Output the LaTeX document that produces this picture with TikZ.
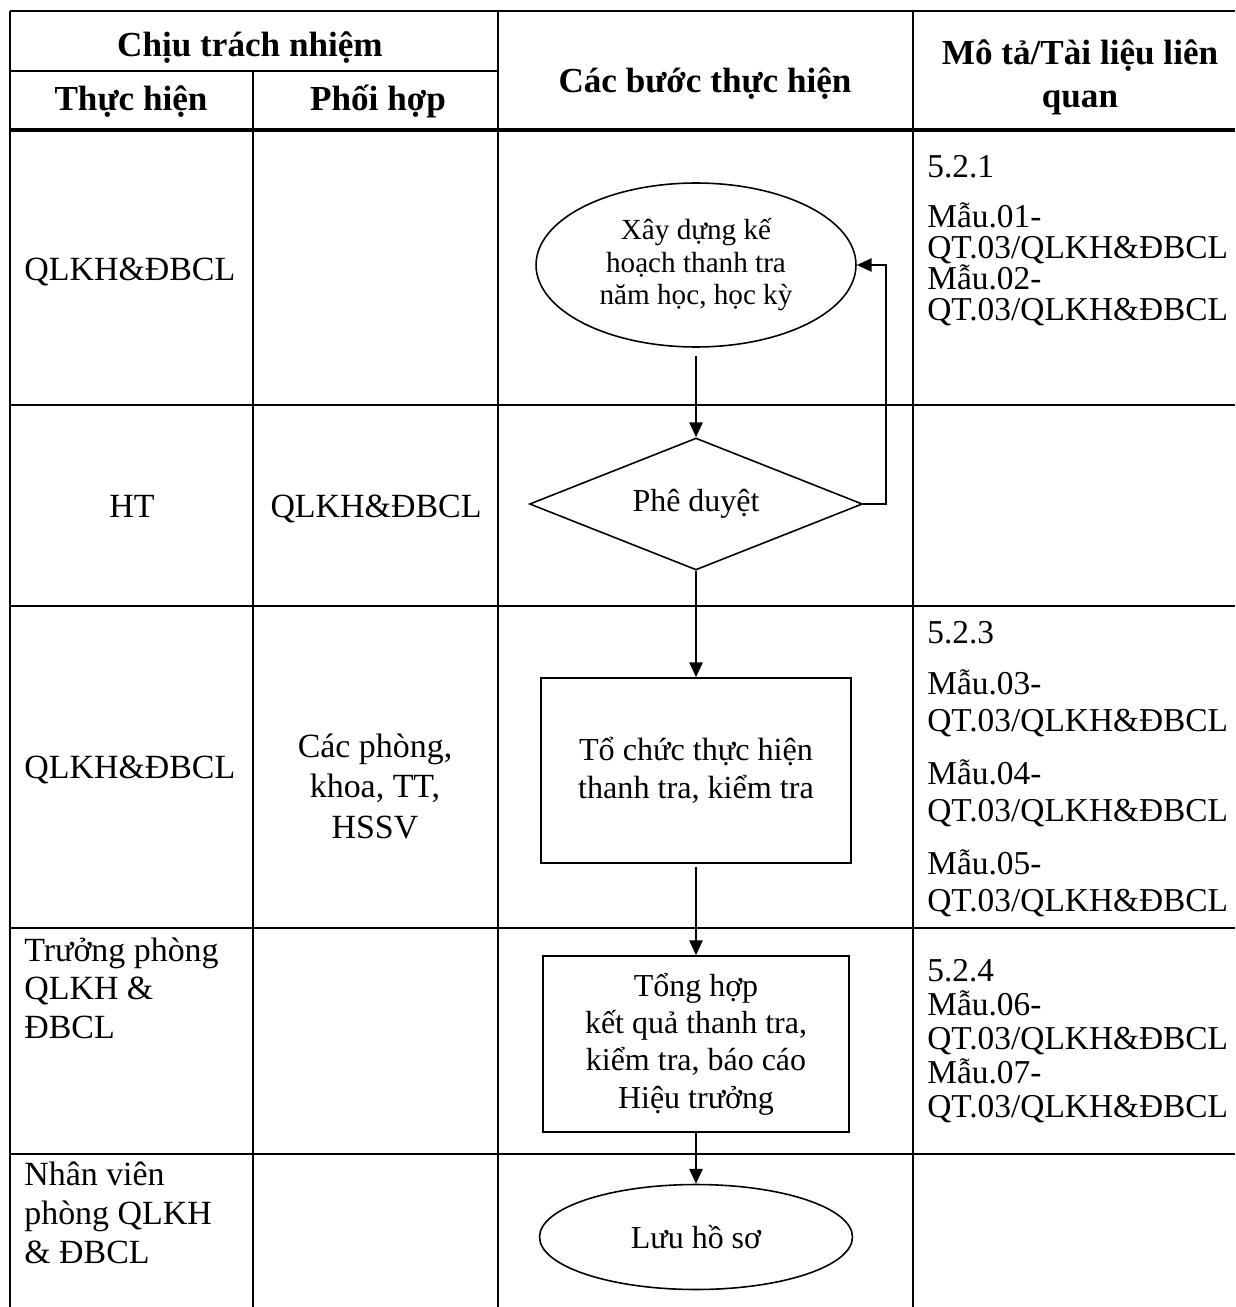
\documentclass[tikz,border=0pt]{standalone}
\usepackage{fontspec}
\setmainfont{Liberation Serif}
\usetikzlibrary{shapes.geometric,arrows.meta}
\newcommand{\tightlines}{\lineskiplimit-100pt\relax}

\begin{document}
\begin{tikzpicture}[x=0.02cm,y=-0.02cm,
    rule/.style={line width=1.2pt},
    headrule/.style={line width=1.8pt},
    headtext/.style={font=\fontsize{20}{24}\selectfont\bfseries,align=center,inner sep=0pt,anchor=base},
    celltext/.style={font=\fontsize{19.3}{21.8}\selectfont\tightlines,align=left,inner sep=0pt,anchor=base west},
    centertext/.style={celltext,align=center,anchor=base},
    flow/.style={line width=1.3pt,-{Triangle[width=7.5pt,length=8.5pt]}},
    startstop/.style={ellipse,draw,line width=0.9pt,inner sep=0pt,align=center},
    decision/.style={diamond,draw,line width=0.9pt,inner sep=0pt,align=center,
      shape aspect=2.52,minimum width=6.66cm,minimum height=2.64cm},
    stepbox/.style={rectangle,draw,line width=0.9pt,inner sep=0pt,align=center},
    steptext/.style={font=\fontsize{18.2}{21.2}\selectfont\tightlines}
  ]
  \useasboundingbox (0,0) rectangle (1235,1307);

  % table rules
  \draw[rule] (10,11) -- (1235,11);
  \draw[rule] (10,71) -- (498,71);
  \draw[headrule] (10,130) -- (1235,130);
  \foreach \y in {405,606,928,1154}
    \draw[rule] (10,\y) -- (1235,\y);
  \draw[rule] (10,11) -- (10,1307);
  \draw[rule] (253,71) -- (253,1307);
  \draw[rule] (498,11) -- (498,1307);
  \draw[rule] (913,11) -- (913,1307);

  % header (base of a multi-line node = last line)
  \node[headtext] (resp) at (250,57) {Chịu trách nhiệm};
  \node[headtext] (doer) at (131,111) {Thực hiện};
  \node[headtext] (partner) at (378,111) {Phối hợp};
  \node[headtext] (steps) at (705,93) {Các bước thực hiện};
  \node[headtext,font=\fontsize{20}{24.5}\selectfont\bfseries] (docs) at (1080,108) {Mô tả/Tài liệu liên\\quan};

  % column: thuc hien / phoi hop
  \node[celltext] (doer1) at (24,280) {QLKH\&ĐBCL};
  \node[centertext] (doer2) at (132,517) {HT};
  \node[centertext] (partner2) at (376,517) {QLKH\&ĐBCL};
  \node[celltext] (doer3) at (24,778) {QLKH\&ĐBCL};
  \node[centertext,font=\fontsize{19.3}{22.8}\selectfont\tightlines] (partner3) at (375,838) {Các phòng,\\khoa, TT,\\HSSV};
  \node[celltext] (doer4) at (24,1038) {Trưởng phòng\\QLKH \&\\ĐBCL};
  \node[celltext,font=\fontsize{19.3}{22.2}\selectfont\tightlines] (doer5) at (24,1263) {Nhân viên\\phòng QLKH\\\& ĐBCL};

  % column: mo ta / tai lieu
  \node[celltext,font=\fontsize{19}{17.6}\selectfont\tightlines] (docs1) at (927,320)
    {5.2.1\\[10.8pt]Mẫu.01-\\QT.03/QLKH\&ĐBCL\\Mẫu.02-\\QT.03/QLKH\&ĐBCL};
  \node[celltext,font=\fontsize{19}{21}\selectfont\tightlines] (docs3) at (927,911)
    {5.2.3\\[8pt]Mẫu.03-\\QT.03/QLKH\&ĐBCL\\[9.1pt]Mẫu.04-\\QT.03/QLKH\&ĐBCL\\[9.1pt]Mẫu.05-\\QT.03/QLKH\&ĐBCL};
  \node[celltext,font=\fontsize{19}{19.3}\selectfont\tightlines] (docs4) at (927,1117)
    {5.2.4\\Mẫu.06-\\QT.03/QLKH\&ĐBCL\\Mẫu.07-\\QT.03/QLKH\&ĐBCL};

  % flow chart
  \node[startstop,minimum width=6.4cm,minimum height=3.28cm,
    font=\fontsize{16.6}{18.5}\selectfont\tightlines] (plan) at (696,265)
    {Xây dựng kế\\hoạch thanh tra\\năm học, học kỳ};
  \node[decision,steptext] (approve) at (696,504) {Phê duyệt};
  \node[stepbox,steptext,minimum width=6.2cm,minimum height=3.7cm,
    font=\fontsize{18.3}{21.6}\selectfont\tightlines] (run) at (696,770.5)
    {Tổ chức thực hiện\\thanh tra, kiểm tra};
  \node[stepbox,steptext,minimum width=6.12cm,minimum height=3.52cm] (report) at (696,1044)
    {Tổng hợp\\kết quả thanh tra,\\kiểm tra, báo cáo\\Hiệu trưởng};
  \node[startstop,steptext,minimum width=6.26cm,minimum height=2.1cm] (store) at (696,1237)
    {Lưu hồ sơ};

  \coordinate (loop) at (886,265);
  \draw[flow,shorten <=4.5pt] (plan.south) -- (approve.north);
  \draw[flow] (approve.east) -| (loop) -- (plan.east);
  \draw[flow] (approve.south) -- (run.north);
  \draw[flow,shorten <=2pt] (run.south) -- (report.north);
  \draw[flow] (report.south) -- (store.north);
\end{tikzpicture}
\end{document}
